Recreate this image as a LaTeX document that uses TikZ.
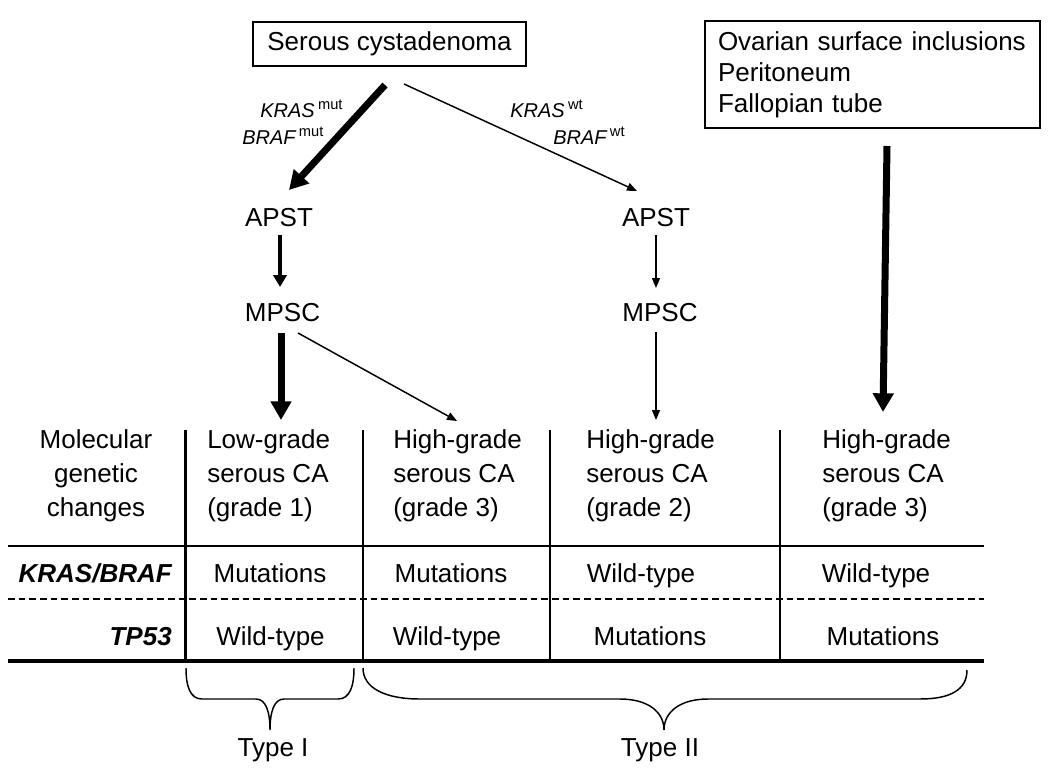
\documentclass[tikz,border=0pt]{standalone}
\usepackage{fontspec}
\setmainfont{Liberation Sans}
\usetikzlibrary{arrows.meta}
\newcommand{\mysup}[1]{\,\raisebox{5.5pt}{\fontsize{11}{13}\selectfont\upshape #1}}
\begin{document}
\begin{tikzpicture}[x=0.75pt,y=-0.75pt,
  every node/.style={font=\fontsize{19.5}{24}\selectfont, inner sep=0pt},
  boxnode/.style={draw, line width=1.1pt},
  lbl/.style={anchor=base west, font=\fontsize{15}{18}\selectfont\itshape},
  txt/.style={anchor=base},
  coltext/.style={align=left, anchor=west, font=\fontsize{19.5}{24}\selectfont},
  rowlbl/.style={anchor=base east, font=\fontsize{19.5}{24}\selectfont\bfseries\itshape},
  thickarr/.style={line width=5.25pt,-{Triangle[length=14pt,width=15pt]}},
  medarr/.style={line width=3pt,-{Triangle[length=9pt,width=10pt]}},
  thinarr/.style={line width=1.1pt,-{Triangle[length=7.5pt,width=6pt]}},
  thinline/.style={line width=1.1pt},
  brace/.style={line width=1.1pt},
]
\useasboundingbox (0,0) rectangle (1050,771);

% boxes
\node[boxnode, minimum width=204.75pt, minimum height=33pt] (serous) at (389.5,44) {Serous cystadenoma};
\node[boxnode, minimum height=80.25pt, text width=231.75pt, inner xsep=9.75pt, align=left,
      font=\fontsize{19.5}{23.25}\selectfont] (ovar) at (872.5,74.5)
  {Ovarian surface inclusions\\Peritoneum\\Fallopian tube};

% labels
\node[lbl] (kras1) at (260,117) {KRAS\mysup{mut}};
\node[lbl] (braf1) at (242,144) {BRAF\mysup{mut}};
\node[lbl] (kras2) at (510,117) {KRAS\mysup{wt}};
\node[lbl] (braf2) at (553,144) {BRAF\mysup{wt}};

\node[txt] (apstL) at (279,226.5) {APST};
\node[txt] (mpscL) at (282.5,321.5) {MPSC};
\node[txt] (apstR) at (656,226.5) {APST};
\node[txt] (mpscR) at (660,321.5) {MPSC};

% arrow end points
\coordinate (sA) at (385,85);   \coordinate (tA) at (289,190);
\coordinate (sB) at (404,84);   \coordinate (tB) at (637,191);
\coordinate (sC) at (280,235);  \coordinate (tC) at (280,287);
\coordinate (sD) at (281,333);  \coordinate (tD) at (281,420);
\coordinate (sE) at (298,333);  \coordinate (tE) at (457,421);
\coordinate (sF) at (656,235);  \coordinate (tF) at (656,288);
\coordinate (sG) at (656,332);  \coordinate (tG) at (656,420);
\coordinate (sH) at (887,146);  \coordinate (tH) at (883,412);

\draw[thickarr] (sA) -- (tA);
\draw[thinarr] (sB) -- (tB);
\draw[medarr] (sC) -- (tC);
\draw[thickarr] (sD) -- (tD);
\draw[thinarr] (sE) -- (tE);
\draw[thinarr] (sF) -- (tF);
\draw[thinarr] (sG) -- (tG);
\draw[thickarr] (sH) -- (tH);

% table
\coordinate (tl1) at (8,546);  \coordinate (tr1) at (984,546);
\coordinate (tl2) at (8,599);  \coordinate (tr2) at (984,599);
\coordinate (tl3) at (8,661);  \coordinate (tr3) at (984,661);
\draw[thinline] (tl1) -- (tr1);
\draw[thinline, dash pattern=on 5pt off 3pt] (tl2) -- (tr2);
\draw[line width=3pt] (tl3) -- (tr3);
\coordinate (v0t) at (185,430); \coordinate (v0b) at (185,661);
\coordinate (v1t) at (363,430); \coordinate (v1b) at (363,661);
\coordinate (v2t) at (550,430); \coordinate (v2b) at (550,661);
\coordinate (v3t) at (780,430); \coordinate (v3b) at (780,661);
\draw[line width=2.25pt] (v0t) -- (v0b);
\draw[thinline] (v1t) -- (v1b);
\draw[thinline] (v2t) -- (v2b);
\draw[thinline] (v3t) -- (v3b);

\node[align=center] (mol) at (96,476) {Molecular\\[1.5pt]genetic\\[1.5pt]changes};
\node[coltext] (c1) at (207,476) {Low-grade\\[1.5pt]serous CA\\[1.5pt](grade 1)};
\node[coltext] (c2) at (393,476) {High-grade\\[1.5pt]serous CA\\[1.5pt](grade 3)};
\node[coltext] (c3) at (586,476) {High-grade\\[1.5pt]serous CA\\[1.5pt](grade 2)};
\node[coltext] (c4) at (822,476) {High-grade\\[1.5pt]serous CA\\[1.5pt](grade 3)};

\node[rowlbl] (rk) at (172,582.5) {KRAS/BRAF};
\node[rowlbl] (rt) at (172,645.5) {TP53};

\node[txt] (k1) at (270,582.5) {Mutations};
\node[txt] (k2) at (451,582.5) {Mutations};
\node[txt] (k3) at (641,582.5) {Wild-type};
\node[txt] (k4) at (876,582.5) {Wild-type};
\node[txt] (p1) at (270.5,645.5) {Wild-type};
\node[txt] (p2) at (447,645.5) {Wild-type};
\node[txt] (p3) at (650,645.5) {Mutations};
\node[txt] (p4) at (883,645.5) {Mutations};

% braces
\draw[brace] (186,668) .. controls (186,686) and (190,699) .. (202,699)
  -- (256,699) .. controls (266,699) and (270,712) .. (270,730)
  .. controls (270,712) and (274,699) .. (284,699)
  -- (338,699) .. controls (350,699) and (354,686) .. (354,668);
\draw[brace] (363,668) .. controls (363,688) and (385,699) .. (420,699)
  -- (620,699) .. controls (648,699) and (664,712) .. (664,730)
  .. controls (664,712) and (680,699) .. (708,699)
  -- (920,699) .. controls (950,699) and (967,690) .. (967,670);

\node[txt] (t1) at (273,756) {Type I};
\node[txt] (t2) at (660,756) {Type II};
\end{tikzpicture}
\end{document}
